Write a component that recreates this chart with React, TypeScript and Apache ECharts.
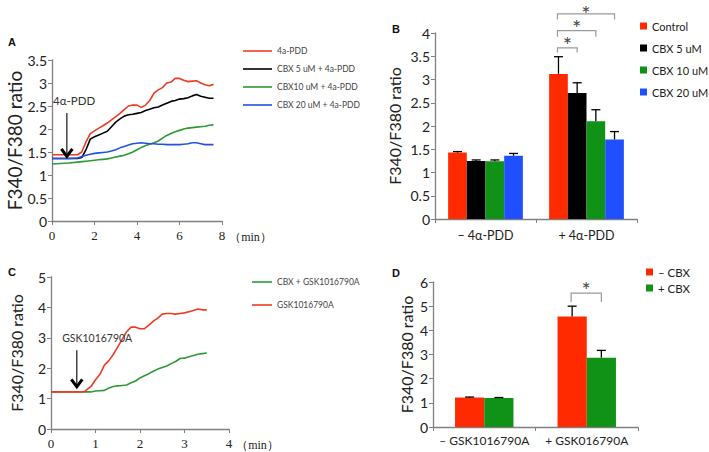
import React, { useEffect, useRef } from "react";
import * as echarts from "echarts";

// ---------- Panel A data (time in min, F340/F380 ratio) ----------
const A_TIME = [0, 0.4, 0.8, 1.2, 1.4, 1.6, 1.8, 2.0, 2.2, 2.4, 2.6, 2.8, 3.0, 3.2, 3.4, 3.6, 3.8, 4.0, 4.2, 4.4, 4.6, 4.8, 5.0, 5.2, 5.4, 5.6, 5.8, 6.0, 6.2, 6.4, 6.6, 6.8, 7.0, 7.2, 7.4, 7.6];
const A_PDD = [1.44, 1.44, 1.44, 1.44, 1.5, 1.72, 1.9, 1.96, 2.02, 2.07, 2.13, 2.2, 2.27, 2.34, 2.42, 2.5, 2.52, 2.52, 2.47, 2.52, 2.62, 2.78, 2.85, 2.9, 3.0, 3.02, 3.1, 3.1, 3.06, 3.03, 3.04, 3.05, 3.0, 2.96, 2.94, 2.97];
const A_CBX5 = [1.36, 1.36, 1.36, 1.36, 1.38, 1.55, 1.78, 1.83, 1.87, 1.91, 1.95, 2.05, 2.15, 2.22, 2.28, 2.31, 2.32, 2.34, 2.36, 2.4, 2.43, 2.46, 2.48, 2.52, 2.56, 2.6, 2.62, 2.65, 2.66, 2.68, 2.72, 2.75, 2.71, 2.69, 2.67, 2.67];
const A_CBX10 = [1.24, 1.25, 1.26, 1.28, 1.29, 1.3, 1.31, 1.32, 1.33, 1.34, 1.35, 1.37, 1.39, 1.41, 1.43, 1.46, 1.5, 1.55, 1.6, 1.64, 1.67, 1.7, 1.74, 1.8, 1.86, 1.9, 1.94, 1.97, 2.0, 2.02, 2.03, 2.04, 2.05, 2.06, 2.08, 2.09];
const A_CBX20 = [1.36, 1.36, 1.36, 1.37, 1.4, 1.43, 1.45, 1.47, 1.48, 1.49, 1.5, 1.52, 1.55, 1.59, 1.62, 1.65, 1.68, 1.69, 1.7, 1.69, 1.68, 1.68, 1.67, 1.67, 1.66, 1.66, 1.66, 1.66, 1.67, 1.68, 1.7, 1.7, 1.68, 1.66, 1.66, 1.66];
const A_NAMES = ["4a-PDD", "CBX 5 uM + 4a-PDD", "CBX10 uM + 4a-PDD", "CBX 20 uM + 4a-PDD"];
const A_X_TICKS = [0, 8, 2]; // min, max, interval
// arrow annotation: [x, arrowTopY, arrowTipY, labelX, labelY]
const A_ARROW = [0.7, 2.35, 1.37, 0.05, 2.48];
const A_ARROW_LABEL = "4α-PDD";

// ---------- Panel B data ----------
const B_CATEGORIES = ["– 4α-PDD", "+ 4α-PDD"];
const B_NAMES = ["Control", "CBX 5 uM", "CBX 10 uM", "CBX 20 uM"];
const B_CONTROL = [1.43, 3.12];
const B_CBX5 = [1.25, 2.71];
const B_CBX10 = [1.24, 2.1];
const B_CBX20 = [1.36, 1.71];
const B_CONTROL_ERR = [0.02, 0.37];
const B_CBX5_ERR = [0.02, 0.22];
const B_CBX10_ERR = [0.03, 0.25];
const B_CBX20_ERR = [0.05, 0.17];
// brackets: [category, fromBar, toBar, topY, bottomY]
const B_BRACKETS = [
  [1, 0, 1, 3.68, 3.58],
  [1, 0, 2, 4.05, 3.92],
  [1, 0, 3, 4.41, 4.29],
];

// ---------- Panel C data ----------
const C_TIME = [0, 0.2, 0.4, 0.6, 0.75, 0.9, 1.0, 1.1, 1.2, 1.3, 1.4, 1.5, 1.6, 1.7, 1.8, 1.9, 2.0, 2.1, 2.2, 2.3, 2.4, 2.5, 2.6, 2.7, 2.8, 2.9, 3.0, 3.1, 3.2, 3.3, 3.4, 3.5];
const C_GSK = [1.22, 1.22, 1.22, 1.22, 1.23, 1.4, 1.62, 1.8, 2.1, 2.25, 2.45, 2.7, 2.95, 3.2, 3.35, 3.35, 3.3, 3.3, 3.42, 3.55, 3.65, 3.78, 3.8, 3.8, 3.78, 3.8, 3.82, 3.86, 3.9, 3.95, 3.92, 3.92];
const C_CBX_GSK = [1.22, 1.22, 1.22, 1.22, 1.22, 1.22, 1.25, 1.26, 1.27, 1.35, 1.4, 1.42, 1.43, 1.45, 1.52, 1.58, 1.68, 1.75, 1.82, 1.9, 1.97, 2.02, 2.07, 2.15, 2.22, 2.32, 2.33, 2.38, 2.42, 2.46, 2.48, 2.5];
const C_NAMES = ["CBX + GSK1016790A", "GSK1016790A"];
const C_ARROW = [0.58, 2.59, 1.34, 0.25, 2.82];
const C_ARROW_LABEL = "GSK1016790A";

// ---------- Panel D data ----------
const D_CATEGORIES = ["– GSK1016790A", "+ GSK016790A"];
const D_NAMES = ["– CBX", "+ CBX"];
const D_MINUS = [1.22, 4.57];
const D_PLUS = [1.2, 2.87];
const D_MINUS_ERR = [0.02, 0.43];
const D_PLUS_ERR = [0.02, 0.3];
const D_BRACKETS = [[1, 0, 1, 5.54, 5.17]];

const RED = "#ff2a00";
const BLACK = "#000000";
const GREEN = "#109216";
const BLUE = "#1f4fff";
const LRED = "#ef3b25";
const LGREEN = "#2c9a35";
const LBLUE = "#2450e6";
const AXIS = "#808080";
const SANS = "Lato";
const SERIF = "Liberation Serif";

const B_GAP = 0.26;
const D_GAP = 0.43;

function errRender(n: number, gap: number) {
  return (params: any, api: any) => {
    const cat = api.value(0);
    const val = api.value(1);
    const err = api.value(2);
    const idx = api.value(3);
    const band = api.size([1, 0])[0];
    const bw = (band * (1 - gap)) / n;
    const p = api.coord([cat, val]);
    const q = api.coord([cat, val + err]);
    const cx = p[0] + (idx - (n - 1) / 2) * bw;
    const st = { stroke: "#000", lineWidth: 1.3 };
    return {
      type: "group",
      children: [
        { type: "line", shape: { x1: cx, y1: p[1], x2: cx, y2: q[1] }, style: st },
        { type: "line", shape: { x1: cx - 4.5, y1: q[1], x2: cx + 4.5, y2: q[1] }, style: st },
      ],
    };
  };
}

function bracketRender(n: number, gap: number) {
  return (params: any, api: any) => {
    const cat = api.value(0);
    const i1 = api.value(1);
    const i2 = api.value(2);
    const top = api.value(3);
    const bot = api.value(4);
    const band = api.size([1, 0])[0];
    const bw = (band * (1 - gap)) / n;
    const pt = api.coord([cat, top]);
    const pb = api.coord([cat, bot]);
    const x1 = pt[0] + (i1 - (n - 1) / 2) * bw - 1;
    const x2 = pt[0] + (i2 - (n - 1) / 2) * bw;
    return {
      type: "group",
      children: [
        {
          type: "polyline",
          shape: { points: [[x1, pb[1]], [x1, pt[1]], [x2, pt[1]], [x2, pb[1]]] },
          style: { stroke: "#9a9a9a", lineWidth: 1.2, fill: null },
        },
        {
          type: "text",
          x: (x1 + x2) / 2,
          y: Math.max(2.5, pt[1] - 14.5),
          style: { text: "*", fill: "#4a4a4a", font: `22px ${SANS}`, lineHeight: 22, align: "center", verticalAlign: "top" },
        },
      ],
    };
  };
}

function arrowRender(label: string, fontSize: number) {
  return (params: any, api: any) => {
    const x = api.value(0);
    const top = api.coord([x, api.value(1)]);
    const tip = api.coord([x, api.value(2)]);
    const lab = api.coord([api.value(3), api.value(4)]);
    return {
      type: "group",
      children: [
        { type: "line", shape: { x1: top[0], y1: top[1], x2: tip[0], y2: tip[1] - 2 }, style: { stroke: "#000", lineWidth: 1.1 } },
        {
          type: "polyline",
          shape: { points: [[tip[0] - 5.5, tip[1] - 9], [tip[0], tip[1] - 1.5], [tip[0] + 5.5, tip[1] - 9]] },
          style: { stroke: "#000", lineWidth: 3, fill: null },
        },
        {
          type: "text",
          x: lab[0],
          y: lab[1],
          style: { text: label, fill: "#333", font: `${fontSize}px ${SANS}`, align: "left", verticalAlign: "bottom" },
        },
      ],
    };
  };
}

function zip(t: number[], v: number[]) {
  return t.map((x, i) => [x, v[i]]);
}

function errData(vals: number[][], errs: number[][]) {
  const out: number[][] = [];
  vals.forEach((s, si) => s.forEach((v, ci) => out.push([ci, v, errs[si][ci], si])));
  return out;
}

const valueY = (min: number, max: number, interval: number, gridIndex: number, nameSize: number, nameGap: number) => ({
  type: "value",
  gridIndex,
  min,
  max,
  interval,
  name: "F340/F380 ratio",
  nameLocation: "middle",
  nameGap,
  nameTextStyle: { fontFamily: SANS, fontSize: nameSize, color: "#222" },
  axisLine: { show: true, lineStyle: { color: AXIS, width: 1.3 } },
  axisTick: { show: true, length: 4, lineStyle: { color: AXIS } },
  axisLabel: { fontFamily: SANS, fontSize: 14, color: "#222", margin: 5 },
  splitLine: { show: false },
});

export default function App() {
  const ref = useRef<HTMLDivElement>(null);
  useEffect(() => {
    if (!ref.current) return;
    const chart = echarts.init(ref.current, undefined, { renderer: "svg" });
    const lineSeries = (name: string, data: number[][], color: string, gi: number) => ({
      type: "line",
      name,
      xAxisIndex: gi,
      yAxisIndex: gi,
      data,
      symbol: "none",
      lineStyle: { color, width: 1.6 },
      itemStyle: { color },
    });
    const barSeries = (name: string, data: number[], color: string, gi: number, gap: number) => ({
      type: "bar",
      name,
      xAxisIndex: gi,
      yAxisIndex: gi,
      data,
      barGap: "0%",
      barCategoryGap: `${gap * 100}%`,
      itemStyle: { color },
    });
    const option: any = {
      animation: false,
      grid: [
        { left: 52, top: 60, width: 170, height: 161 },
        { left: 435, top: 33, width: 202, height: 186 },
        { left: 51, top: 277, width: 178, height: 152 },
        { left: 433, top: 282, width: 205, height: 145 },
      ],
      xAxis: [
        {
          type: "value",
          gridIndex: 0,
          min: A_X_TICKS[0],
          max: A_X_TICKS[1],
          interval: A_X_TICKS[2],
          name: "（min）",
          nameLocation: "end",
          nameGap: 3,
          nameTextStyle: { fontFamily: SERIF, fontSize: 12, color: "#222", verticalAlign: "top", padding: [10, 0, 0, 0] },
          axisLine: { show: true, lineStyle: { color: AXIS, width: 1.3 } },
          axisTick: { show: true, length: 4, lineStyle: { color: AXIS } },
          axisLabel: { fontFamily: SERIF, fontSize: 13, color: "#222", margin: 8 },
          splitLine: { show: false },
        },
        {
          type: "category",
          gridIndex: 1,
          data: B_CATEGORIES,
          axisLine: { show: true, lineStyle: { color: AXIS, width: 1.3 } },
          axisTick: { show: true, length: 4, lineStyle: { color: AXIS } },
          axisLabel: { fontFamily: SANS, fontSize: 12.5, color: "#222", margin: 10, interval: 0 },
        },
        {
          type: "value",
          gridIndex: 2,
          min: 0,
          max: 4,
          interval: 1,
          name: "（min）",
          nameLocation: "end",
          nameGap: 3,
          nameTextStyle: { fontFamily: SERIF, fontSize: 12, color: "#222", verticalAlign: "top", padding: [10, 0, 0, 0] },
          axisLine: { show: true, lineStyle: { color: AXIS, width: 1.3 } },
          axisTick: { show: true, length: 4, lineStyle: { color: AXIS } },
          axisLabel: { fontFamily: SERIF, fontSize: 13, color: "#222", margin: 8 },
          splitLine: { show: false },
        },
        {
          type: "category",
          gridIndex: 3,
          data: D_CATEGORIES,
          axisLine: { show: true, lineStyle: { color: AXIS, width: 1.3 } },
          axisTick: { show: true, length: 4, lineStyle: { color: AXIS } },
          axisLabel: { fontFamily: SANS, fontSize: 12, color: "#222", margin: 7, interval: 0 },
        },
      ],
      yAxis: [
        valueY(0, 3.5, 0.5, 0, 19, 26),
        valueY(0, 4, 0.5, 1, 16, 33),
        valueY(0, 5, 1, 2, 16, 27),
        valueY(0, 6, 1, 3, 16, 19),
      ],
      legend: [
        {
          data: A_NAMES,
          orient: "vertical",
          left: 243,
          top: 46,
          padding: 0,
          icon: "rect",
          itemWidth: 29,
          itemHeight: 1.6,
          itemGap: 8,
          textStyle: { fontFamily: SANS, fontSize: 8.5, color: "#444", lineHeight: 10 },
        },
        {
          data: B_NAMES,
          orient: "vertical",
          left: 640,
          top: 19,
          padding: 0,
          icon: "rect",
          itemWidth: 7,
          itemHeight: 7,
          itemGap: 8,
          textStyle: { fontFamily: SANS, fontSize: 11, color: "#222", lineHeight: 14 },
        },
        {
          data: C_NAMES,
          orient: "vertical",
          left: 252,
          top: 277,
          padding: 0,
          icon: "rect",
          itemWidth: 20,
          itemHeight: 1.6,
          itemGap: 13,
          textStyle: { fontFamily: SANS, fontSize: 8.5, color: "#444", lineHeight: 10 },
        },
        {
          data: D_NAMES,
          orient: "vertical",
          left: 646,
          top: 265,
          padding: 0,
          icon: "rect",
          itemWidth: 7,
          itemHeight: 7,
          itemGap: 2,
          textStyle: { fontFamily: SANS, fontSize: 11.5, color: "#222", lineHeight: 14 },
        },
      ],
      series: [
        lineSeries(A_NAMES[0], zip(A_TIME, A_PDD), LRED, 0),
        lineSeries(A_NAMES[1], zip(A_TIME, A_CBX5), BLACK, 0),
        lineSeries(A_NAMES[2], zip(A_TIME, A_CBX10), LGREEN, 0),
        lineSeries(A_NAMES[3], zip(A_TIME, A_CBX20), LBLUE, 0),
        {
          type: "custom",
          xAxisIndex: 0,
          yAxisIndex: 0,
          data: [A_ARROW],
          renderItem: arrowRender(A_ARROW_LABEL, 11.5),
          z: 10,
        },
        barSeries(B_NAMES[0], B_CONTROL, RED, 1, B_GAP),
        barSeries(B_NAMES[1], B_CBX5, BLACK, 1, B_GAP),
        barSeries(B_NAMES[2], B_CBX10, GREEN, 1, B_GAP),
        barSeries(B_NAMES[3], B_CBX20, BLUE, 1, B_GAP),
        {
          type: "custom",
          xAxisIndex: 1,
          yAxisIndex: 1,
          data: errData([B_CONTROL, B_CBX5, B_CBX10, B_CBX20], [B_CONTROL_ERR, B_CBX5_ERR, B_CBX10_ERR, B_CBX20_ERR]),
          renderItem: errRender(4, B_GAP),
          z: 5,
        },
        {
          type: "custom",
          xAxisIndex: 1,
          yAxisIndex: 1,
          data: B_BRACKETS,
          renderItem: bracketRender(4, B_GAP),
          z: 5,
        },
        lineSeries(C_NAMES[0], zip(C_TIME, C_CBX_GSK), LGREEN, 2),
        lineSeries(C_NAMES[1], zip(C_TIME, C_GSK), LRED, 2),
        {
          type: "custom",
          xAxisIndex: 2,
          yAxisIndex: 2,
          data: [C_ARROW],
          renderItem: arrowRender(C_ARROW_LABEL, 10.5),
          z: 10,
        },
        barSeries(D_NAMES[0], D_MINUS, RED, 3, D_GAP),
        barSeries(D_NAMES[1], D_PLUS, GREEN, 3, D_GAP),
        {
          type: "custom",
          xAxisIndex: 3,
          yAxisIndex: 3,
          data: errData([D_MINUS, D_PLUS], [D_MINUS_ERR, D_PLUS_ERR]),
          renderItem: errRender(2, D_GAP),
          z: 5,
        },
        {
          type: "custom",
          xAxisIndex: 3,
          yAxisIndex: 3,
          data: D_BRACKETS,
          renderItem: bracketRender(2, D_GAP),
          z: 5,
        },
      ],
      graphic: [
        { type: "text", left: 8, top: 36, style: { text: "A", font: `bold 11px Liberation Sans`, fill: "#111" } },
        { type: "text", left: 392, top: 23, style: { text: "B", font: `bold 11px Liberation Sans`, fill: "#111" } },
        { type: "text", left: 8, top: 266, style: { text: "C", font: `bold 11px Liberation Sans`, fill: "#111" } },
        { type: "text", left: 392, top: 267, style: { text: "D", font: `bold 11px Liberation Sans`, fill: "#111" } },
      ],
    };
    chart.setOption(option);
    return () => chart.dispose();
  }, []);
  return (
    <div
      ref={ref}
      style={{ position: "absolute", left: 0, top: 0, width: 709, height: 452, background: "#fff" }}
    />
  );
}
